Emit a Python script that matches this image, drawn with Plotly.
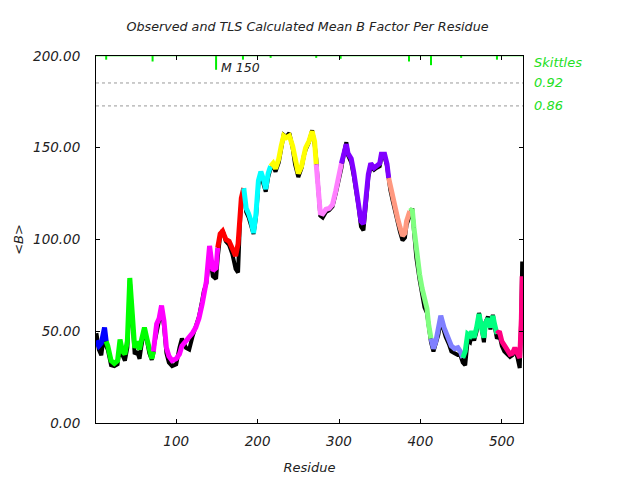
import plotly.graph_objects as go

# residue positions and mean B values
residues = [2, 5, 8, 10, 12, 14, 16, 20, 24, 28, 31, 34, 37, 40, 42, 43, 45, 47, 49, 52,
            55, 57, 61, 64, 67, 70, 72, 73, 76, 79, 82, 85, 88, 91, 95, 100, 104, 107, 112, 116,
            120, 124, 128, 132, 134, 137, 141, 145, 149, 151, 154, 157, 161, 165, 169, 173, 176, 178, 180, 183,
            186, 189, 192, 195, 198, 201, 204, 207, 210, 213, 216, 219, 222, 226, 229, 232, 235, 239, 243, 246,
            250, 254, 257, 259, 263, 267, 270, 272, 274, 275, 277, 280, 284, 288, 292, 296, 300, 303, 306, 309,
            311, 315, 318, 321, 324, 327, 330, 333, 336, 339, 343, 346, 350, 352, 356, 359, 361, 363, 366, 369,
            372, 375, 378, 381, 383, 387, 390, 392, 395, 399, 402, 405, 408, 410, 413, 416, 419, 422, 425, 429,
            431, 435, 438, 442, 446, 449, 452, 455, 458, 461, 463, 466, 469, 472, 475, 478, 480, 483, 486, 489,
            491, 494, 497, 500, 503, 506, 510, 513, 516, 519, 522, 524, 525]

b_calc = [45, 42, 43.5, 47, 52, 44.5, 42, 34, 32.5, 34, 45.5, 39, 37.5, 44.5, 61, 79, 66.5, 48.5, 41, 44.5,
          40, 44.5, 52, 46, 40, 35, 39, 44.5, 54, 57, 64, 55.5, 41, 36.5, 34, 35, 37.5, 42, 44.5, 46,
          49, 52, 57, 65, 71, 77, 96.5, 83, 84.5, 95.5, 103, 104.5, 100, 99, 95, 91, 97.5, 114, 122.5, 128,
          117, 114, 110, 103.5, 114, 132, 137, 133, 127.5, 136, 140, 141.5, 138.5, 144, 151, 156.5, 155.5, 156.5, 151, 143,
          136, 140, 148, 150, 153.5, 159, 153.5, 141, 132, 122.5, 114.5, 114, 116.5, 117, 119, 126.5, 133.5, 141.5, 148, 152,
          147, 144, 137, 129, 121, 110, 108.5, 121, 135.5, 141.5, 139, 140, 141.5, 146.5, 146.5, 141, 133.5, 129, 122.5, 117,
          111.5, 106.5, 102, 103.5, 110, 115.5, 116.5, 106.5, 93, 81, 73.5, 66.5, 62.5, 54, 46, 40.5, 44.5, 52, 58.5, 52,
          50, 46, 42, 40.5, 41, 39, 35.5, 39, 48.5, 47.5, 50, 46.5, 52, 59.5, 52, 46.5, 54.5, 57, 52, 58.5,
          54, 48.5, 50, 44.5, 42, 40.5, 37.5, 38, 41, 38, 35.5, 57, 80]

b_obs = [49, 40, 37, 45, 50, 42, 40, 31.5, 31, 32, 42, 37, 34, 41, 58, 78, 65, 46, 37.5, 39,
         35, 41, 51, 45, 38, 34.5, 38, 43, 51, 56, 62, 53, 38, 33, 31, 32, 41, 46, 41, 40,
         47, 52, 58, 67, 72, 76, 92, 80, 78.5, 90, 102, 105, 99, 97, 92, 84, 82, 106, 121, 126,
         115, 112, 108, 103, 112, 130, 135, 131, 126, 134, 139, 140, 137, 142, 150, 157, 156, 158, 150, 141,
         134, 139, 146, 149, 153, 159.5, 152, 144, 131, 121, 113, 112, 115, 116, 118, 125, 132, 139, 147, 153,
         146, 142, 135, 127, 118, 107, 105, 119, 134, 140, 138, 139, 140, 145, 145, 140, 132, 127, 121, 115,
         109, 104, 99.5, 101, 108, 114, 117, 105, 90, 78, 70, 63, 60, 52, 44, 39, 43, 48, 56, 50,
         47, 43, 39, 38, 37, 37, 33, 31.5, 45, 44, 48, 45, 50, 60, 50, 44, 55, 58, 51, 59,
         53, 46, 48, 42, 39, 38, 36, 37, 40, 36, 30, 60, 88]

# TLS groups: start residue, end residue, colour
group_start = [2, 14, 72, 151, 183, 216, 272, 303, 361, 387, 413, 452, 494]
group_end = [14, 72, 151, 183, 216, 272, 303, 361, 387, 413, 452, 494, 525]
group_color = ["#0000ff", "#00ff00", "#ff00ff", "#ff0000", "#00ffff", "#ffff00", "#ff80ff",
               "#8000ff", "#ff9980", "#80ff80", "#8080ff", "#00ff80", "#ff0080"]

# skittle ticks hanging from the top edge
skittle_res = [14, 71, 149, 182, 216, 272, 302, 386, 413, 450, 494]
skittle_len = [2, 3, 7.5, 2, 1, 1, 1.5, 3, 5, 1, 2]
skittle_levels = ["0.92", "0.86"]
skittle_level_y = [185.3, 172.8]

GREEN = "#22e022"
FONT = dict(family="DejaVu Sans", size=13, color="#222222", style="italic")

fig = go.Figure()

fig.add_trace(go.Scatter(x=residues, y=b_obs, mode="lines",
                         line=dict(color="black", width=4), hoverinfo="skip"))

for s, e, c in zip(group_start, group_end, group_color):
    xs = [r for r in residues if s <= r <= e]
    ys = [v for r, v in zip(residues, b_calc) if s <= r <= e]
    fig.add_trace(go.Scatter(x=xs, y=ys, mode="lines", line=dict(color=c, width=5)))

for ly in skittle_level_y:
    fig.add_shape(type="line", xref="paper", x0=0, x1=1, y0=ly, y1=ly,
                  line=dict(color="#999999", width=1, dash="dot"))

tx, ty = [], []
for r, l in zip(skittle_res, skittle_len):
    tx += [r, r, None]
    ty += [200, 200 - l, None]
fig.add_trace(go.Scatter(x=tx, y=ty, mode="lines", line=dict(color="#00ee00", width=2),
                         cliponaxis=False))
fig.add_trace(go.Scatter(x=[1.5, 526], y=[200.4, 200.4], mode="lines",
                         line=dict(color="#00ee00", width=2), cliponaxis=False))

fig.add_annotation(x=153, y=193.5, text="M 150", showarrow=False, xanchor="left",
                   font=dict(FONT, size=12.5))
fig.add_annotation(xref="paper", x=1.02, y=196.5, text="Skittles", showarrow=False,
                   xanchor="left", font=dict(FONT, color=GREEN))
for lab, ly in zip(skittle_levels, skittle_level_y):
    fig.add_annotation(xref="paper", x=1.02, y=ly, text=lab, showarrow=False,
                       xanchor="left", font=dict(FONT, color=GREEN))

axis_style = dict(showline=True, linecolor="black", linewidth=1, mirror="ticks",
                  ticks="inside", ticklen=4, tickcolor="black", showgrid=False,
                  zeroline=False, automargin=False, tickfont=dict(FONT, size=13.5))

fig.update_layout(
    width=640, height=480,
    paper_bgcolor="white", plot_bgcolor="white",
    showlegend=False,
    margin=dict(l=88, r=125, t=48, b=65),
    title=dict(text="Observed and TLS Calculated Mean B Factor Per Residue",
               x=0.468, xanchor="center", y=0.97, font=dict(FONT, size=12.7)),
    xaxis=dict(axis_style, range=[1.5, 526], tickvals=[100, 200, 300, 400, 500],
               ticklabelstandoff=6,
               title=dict(text="Residue", font=FONT, standoff=14)),
    yaxis=dict(axis_style, range=[0, 200], tickvals=[0, 50, 100, 150, 200],
               tickformat=".2f", ticklabelstandoff=12,
               title=dict(text="&lt;B&gt;", font=FONT, standoff=6)),
)

fig.write_html("out.html")
